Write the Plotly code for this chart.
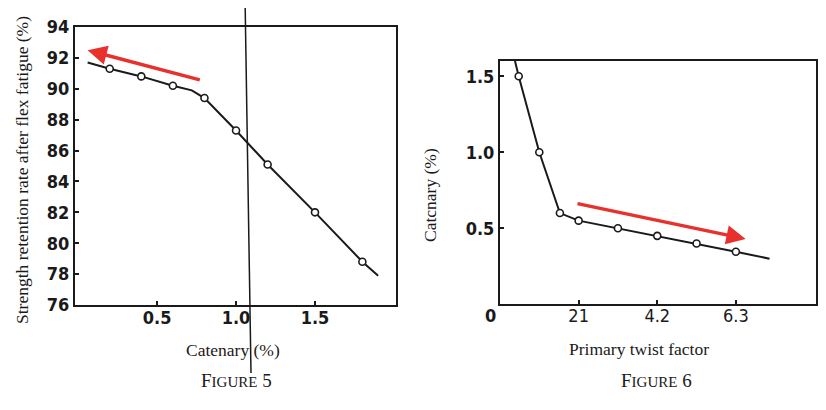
import plotly.graph_objects as go

# Figure 5: strength retention vs catenary
fig5_catenary = [0.2, 0.4, 0.6, 0.8, 1.0, 1.2, 1.5, 1.8]
fig5_retention = [91.3, 90.8, 90.2, 89.4, 87.3, 85.1, 82.0, 78.8]
# drawn curve (runs a bit past the measured points)
fig5_curve_x = [0.06, 0.2, 0.4, 0.6, 0.72, 0.8, 1.0, 1.2, 1.5, 1.8, 1.9]
fig5_curve_y = [91.7, 91.3, 90.8, 90.2, 89.9, 89.4, 87.3, 85.1, 82.0, 78.8, 77.9]
fig5_yticks = [76, 78, 80, 82, 84, 86, 88, 90, 92, 94]
fig5_xticks = [0.5, 1.0, 1.5]
fig5_xticktext = ["0.5", "1.0", "1.5"]

# Figure 6: catenary vs primary twist factor
fig6_twist = [0.5, 1.05, 1.6, 2.1, 3.15, 4.2, 5.25, 6.3]
fig6_catenary = [1.5, 1.0, 0.6, 0.55, 0.5, 0.45, 0.4, 0.345]
fig6_curve_x = [0.4, 0.5, 1.05, 1.6, 2.1, 3.15, 4.2, 5.25, 6.3, 7.2]
fig6_curve_y = [1.6, 1.5, 1.0, 0.6, 0.55, 0.5, 0.45, 0.4, 0.345, 0.3]
fig6_yticks = [0.5, 1.0, 1.5]
fig6_yticktext = ["0.5", "1.0", "1.5"]
fig6_xticks = [2.1, 4.2, 6.3]
fig6_xticktext = ["21", "4.2", "6.3"]

INK = "#1a1a1a"
RED = "#e8302c"
SANS = "Liberation Sans Narrow, DejaVu Sans Condensed, Liberation Sans"
BOLDTICK = dict(family=SANS, size=18, color=INK, weight="bold")
THINTICK = dict(family=SANS, size=18, color=INK)
SERIF = dict(family="Liberation Serif, Times New Roman, serif", size=17.5, color=INK)

fig = go.Figure()

fig.add_trace(go.Scatter(x=fig5_curve_x, y=fig5_curve_y, mode="lines",
                         line=dict(color=INK, width=2), xaxis="x", yaxis="y", hoverinfo="skip"))
fig.add_trace(go.Scatter(x=fig5_catenary, y=fig5_retention, mode="markers",
                         marker=dict(symbol="circle", size=7, color="white", line=dict(color=INK, width=1.6)),
                         xaxis="x", yaxis="y"))
fig.add_trace(go.Scatter(x=fig6_curve_x, y=fig6_curve_y, mode="lines",
                         line=dict(color=INK, width=2), xaxis="x2", yaxis="y2", hoverinfo="skip"))
fig.add_trace(go.Scatter(x=fig6_twist, y=fig6_catenary, mode="markers",
                         marker=dict(symbol="circle", size=7, color="white", line=dict(color=INK, width=1.6)),
                         xaxis="x2", yaxis="y2"))

axis_style = dict(showline=True, linecolor=INK, linewidth=2, mirror=True, showgrid=False,
                  zeroline=False, ticks="inside", ticklen=4, tickwidth=1.5, tickcolor=INK,
                  automargin=False)

# the page has an 8px body margin, so the figure is sized to fit inside the window
fig.update_layout(
    width=810, height=394,
    margin=dict(l=0, r=0, t=0, b=0),
    paper_bgcolor="white", plot_bgcolor="white",
    showlegend=False,
    xaxis=dict(domain=[0.0827, 0.4790], range=[-0.02, 2.013], tickvals=fig5_xticks,
               ticktext=fig5_xticktext, anchor="y", tickfont=BOLDTICK, ticklabelstandoff=-5,
               **axis_style),
    yaxis=dict(domain=[0.2462, 0.9518], range=[76, 94], tickvals=fig5_yticks,
               anchor="x", tickfont=BOLDTICK, **axis_style),
    xaxis2=dict(domain=[0.6074, 0.998], range=[0, 8.45], tickvals=fig6_xticks,
                ticktext=fig6_xticktext, anchor="y2", tickfont=THINTICK, ticklabelstandoff=-6,
                **axis_style),
    yaxis2=dict(domain=[0.2480, 0.8655], range=[0, 1.6], tickvals=fig6_yticks,
                ticktext=fig6_yticktext, anchor="x2", tickfont=BOLDTICK, **axis_style),
)

# red trend arrows
fig.add_annotation(x=0.06, y=92.5, ax=0.78, ay=90.55, xref="x", yref="y", axref="x", ayref="y",
                   showarrow=True, arrowhead=2, arrowsize=1.1, arrowwidth=3.5, arrowcolor=RED, text="")
fig.add_annotation(x=6.56, y=0.43, ax=2.03, ay=0.664, xref="x2", yref="y2", axref="x2", ayref="y2",
                   showarrow=True, arrowhead=2, arrowsize=1.1, arrowwidth=3.5, arrowcolor=RED, text="")

# titles and captions (centred on the given point)
labels = [
    (0.0173, 0.5888, -90, "Strength retention rate after flex fatigue (%)", SERIF),
    (0.2778, 0.1320, 0, "Catenary (%)", SERIF),
    (0.2815, 0.0558, 0, "F<span style='font-size:15px'>IGURE</span> 5", dict(SERIF, size=19)),
    (0.5210, 0.5254, -90, "Catcnary (%)", SERIF),
    (0.7790, 0.1345, 0, "Primary twist factor", SERIF),
    (0.8012, 0.0558, 0, "F<span style='font-size:15px'>IGURE</span> 6", dict(SERIF, size=19)),
]
for lx, ly, ang, txt, fnt in labels:
    fig.add_annotation(x=lx, y=ly, xref="paper", yref="paper", xanchor="center", yanchor="middle",
                       showarrow=False, textangle=ang, text=txt, font=fnt)

fig.add_annotation(x=0, y=0, xref="x2", yref="y2", xanchor="center", yanchor="top", yshift=1, xshift=-9,
                   showarrow=False, text="0", font=BOLDTICK)

# scan artefact: page fold line
fig.add_shape(type="line", xref="paper", yref="paper", x0=0.2926, y0=1.03, x1=0.3, y1=0.0736,
              line=dict(color=INK, width=1.5))

fig.write_html("out.html")
